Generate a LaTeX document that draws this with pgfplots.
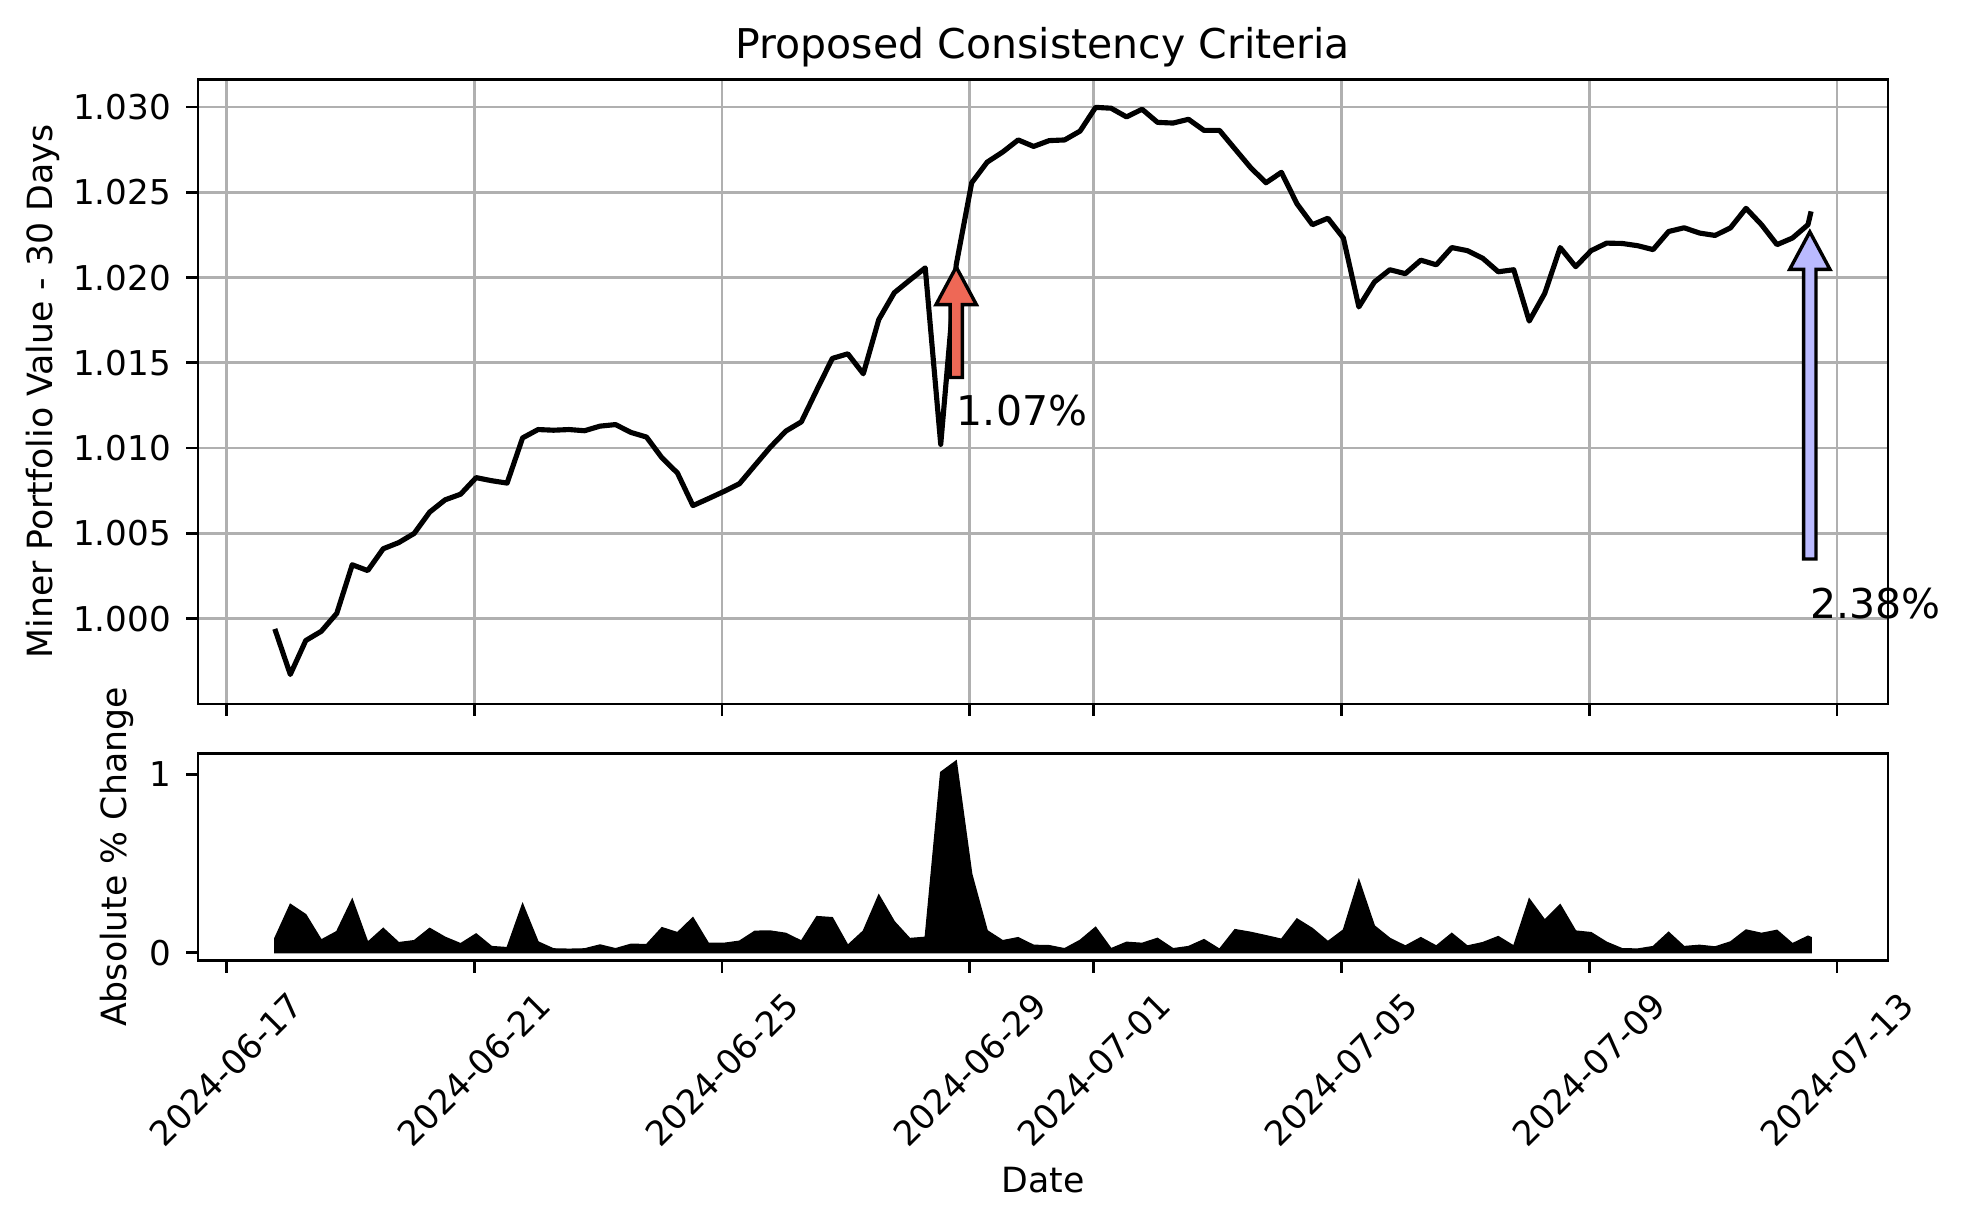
\documentclass[border=0pt]{standalone}
\usepackage{fontspec}
\setmainfont{DejaVu Sans}
\usepackage{pgfplots}
\usepackage{pgfplotstable}
\pgfplotsset{compat=1.18}

\definecolor{gridgray}{RGB}{176,176,176}
\definecolor{arrowred}{RGB}{238,104,86}
\definecolor{arrowblue}{RGB}{186,186,255}

% t = days since 2024-06-17 00:00, value = portfolio value, change = absolute % change
\pgfplotstableread{
t value change
0.78 0.99940 0.080
1.03 0.99673 0.271
1.28 0.99872 0.213
1.53 0.99926 0.071
1.78 1.00031 0.118
2.03 1.00316 0.299
2.28 1.00282 0.058
2.53 1.00410 0.136
2.78 1.00446 0.056
3.03 1.00500 0.067
3.28 1.00625 0.136
3.53 1.00697 0.086
3.78 1.00730 0.050
4.03 1.00827 0.105
4.28 1.00809 0.034
4.53 1.00795 0.028
4.78 1.01060 0.273
5.03 1.01109 0.060
5.28 1.01105 0.021
5.53 1.01109 0.019
5.78 1.01102 0.021
6.03 1.01129 0.043
6.28 1.01138 0.022
6.53 1.01092 0.047
6.78 1.01065 0.045
7.03 1.00943 0.140
7.28 1.00854 0.112
7.53 1.00663 0.196
7.78 1.00704 0.052
8.03 1.00746 0.052
8.28 1.00791 0.064
8.53 1.00899 0.120
8.78 1.01006 0.121
9.03 1.01100 0.108
9.28 1.01154 0.065
9.53 1.01342 0.202
9.78 1.01526 0.196
10.03 1.01553 0.041
10.28 1.01436 0.121
10.53 1.01754 0.323
10.78 1.01911 0.174
11.03 1.01985 0.079
11.28 1.02057 0.086
11.53 1.01022 1.011
11.78 1.02075 1.075
12.03 1.02556 0.441
12.28 1.02677 0.123
12.53 1.02736 0.067
12.78 1.02807 0.084
13.03 1.02769 0.041
13.28 1.02803 0.039
13.53 1.02807 0.022
13.78 1.02859 0.069
14.03 1.02998 0.142
14.28 1.02993 0.022
14.53 1.02942 0.058
14.78 1.02987 0.052
15.03 1.02910 0.080
15.28 1.02906 0.022
15.53 1.02928 0.034
15.78 1.02863 0.073
16.03 1.02863 0.019
16.28 1.02754 0.129
16.53 1.02646 0.114
16.78 1.02556 0.095
17.03 1.02617 0.075
17.28 1.02433 0.189
17.53 1.02310 0.135
17.78 1.02348 0.062
18.03 1.02232 0.127
18.28 1.01828 0.407
18.53 1.01974 0.150
18.78 1.02046 0.080
19.03 1.02023 0.037
19.28 1.02102 0.084
19.53 1.02075 0.037
19.78 1.02176 0.108
20.03 1.02158 0.037
20.28 1.02113 0.056
20.53 1.02034 0.090
20.78 1.02046 0.037
21.03 1.01745 0.301
21.28 1.01907 0.183
21.53 1.02176 0.269
21.78 1.02064 0.121
22.03 1.02158 0.112
22.28 1.02202 0.058
22.53 1.02200 0.022
22.78 1.02187 0.020
23.03 1.02164 0.034
23.28 1.02270 0.114
23.53 1.02292 0.034
23.78 1.02261 0.041
24.03 1.02247 0.032
24.28 1.02292 0.060
24.53 1.02406 0.127
24.78 1.02310 0.108
25.03 1.02193 0.125
25.28 1.02232 0.050
25.53 1.02310 0.092
25.58 1.02388 0.085
}\portfolio

\pgfplotsset{
  mpl/.style={
    scale only axis,
    width=494.6pt,
    xmin=-0.46, xmax=26.82,
    xtick={0,4,8,12,14,18,22,26},
    tick align=outside, tick pos=left,
    major tick length=3.5pt,
    tick style={black, line width=0.8pt},
    axis line style={black, line width=0.8pt},
    tick label style={font=\fontsize{10}{12}\selectfont},
    label style={font=\fontsize{10.16}{12}\selectfont},
    /pgf/number format/assume math mode=true,
    yticklabel style={inner sep=0pt, anchor=east},
    yticklabel shift=4.2pt,
    scaled y ticks=false,
  }
}

\begin{document}
\begin{tikzpicture}
\useasboundingbox (0,0) rectangle (576pt,358.53pt);

\begin{axis}[mpl,
  at={(57.95pt,152.49pt)}, anchor=south west,
  height=182.8pt,
  ymin=0.99500, ymax=1.03162,
  ytick={1.000,1.005,1.010,1.015,1.020,1.025,1.030},
  yticklabel={\pgfmathprintnumber[fixed,fixed zerofill,precision=3]{\tick}},
  xticklabels={},
  grid=major,
  major grid style={gridgray, line width=0.8pt},
  title={Proposed Consistency Criteria},
  every axis title/.style={at={(axis description cs:0.5,1)}, anchor=base,
    yshift=6pt, inner sep=0pt, font=\fontsize{12}{14}\selectfont},
  ylabel={Miner Portfolio Value - 30 Days},
  ylabel style={at={(axis description cs:-0.0916,0.5)}, anchor=center},
  clip=false,
]
\addplot[black, line width=1.5pt, line join=round] table[x=t, y=value] {\portfolio};

% annotations
\coordinate (rtail) at (axis cs:11.78,1.01414);
\coordinate (rtip) at (axis cs:11.78,1.02062);
\draw[fill=arrowred, line width=1pt, line join=miter]
  ([xshift=-1.8pt]rtail) -- ([xshift=-1.8pt,yshift=-11pt]rtip)
  -- ([xshift=-5.9pt,yshift=-11pt]rtip) -- (rtip)
  -- ([xshift=5.9pt,yshift=-11pt]rtip) -- ([xshift=1.8pt,yshift=-11pt]rtip)
  -- ([xshift=1.8pt]rtail) -- cycle;
\node[anchor=base west, inner sep=0pt, font=\fontsize{12}{14}\selectfont]
  at (axis cs:11.78,1.01131) {1.07\%};

\coordinate (btail) at (axis cs:25.56,1.00350);
\coordinate (btip) at (axis cs:25.56,1.02268);
\draw[fill=arrowblue, line width=1pt, line join=miter]
  ([xshift=-1.8pt]btail) -- ([xshift=-1.8pt,yshift=-11pt]btip)
  -- ([xshift=-5.9pt,yshift=-11pt]btip) -- (btip)
  -- ([xshift=5.9pt,yshift=-11pt]btip) -- ([xshift=1.8pt,yshift=-11pt]btip)
  -- ([xshift=1.8pt]btail) -- cycle;
\node[anchor=base west, inner sep=0pt, font=\fontsize{12}{14}\selectfont]
  at (axis cs:25.56,1.000) {2.38\%};
\end{axis}

\begin{axis}[mpl,
  at={(57.95pt,77.36pt)}, anchor=south west,
  height=60.7pt,
  ymin=-0.045, ymax=1.118,
  ytick={0,1},
  xticklabels={2024-06-17,2024-06-21,2024-06-25,2024-06-29,2024-07-01,2024-07-05,2024-07-09,2024-07-13},
  xticklabel style={inner sep=0pt, anchor=north east, xshift=17.8pt, rotate=45},
  xticklabel shift=4.9pt,
  xlabel={Date},
  xlabel style={at={(axis description cs:0.5,0)}, anchor=center, yshift=-64.2pt},
  ylabel={Absolute \% Change},
  ylabel style={at={(axis description cs:-0.0481,0.5)}, anchor=center},
]
\addplot[fill=black, draw=black, line width=0.4pt] table[x=t, y=change] {\portfolio} \closedcycle;
\end{axis}
\end{tikzpicture}
\end{document}
